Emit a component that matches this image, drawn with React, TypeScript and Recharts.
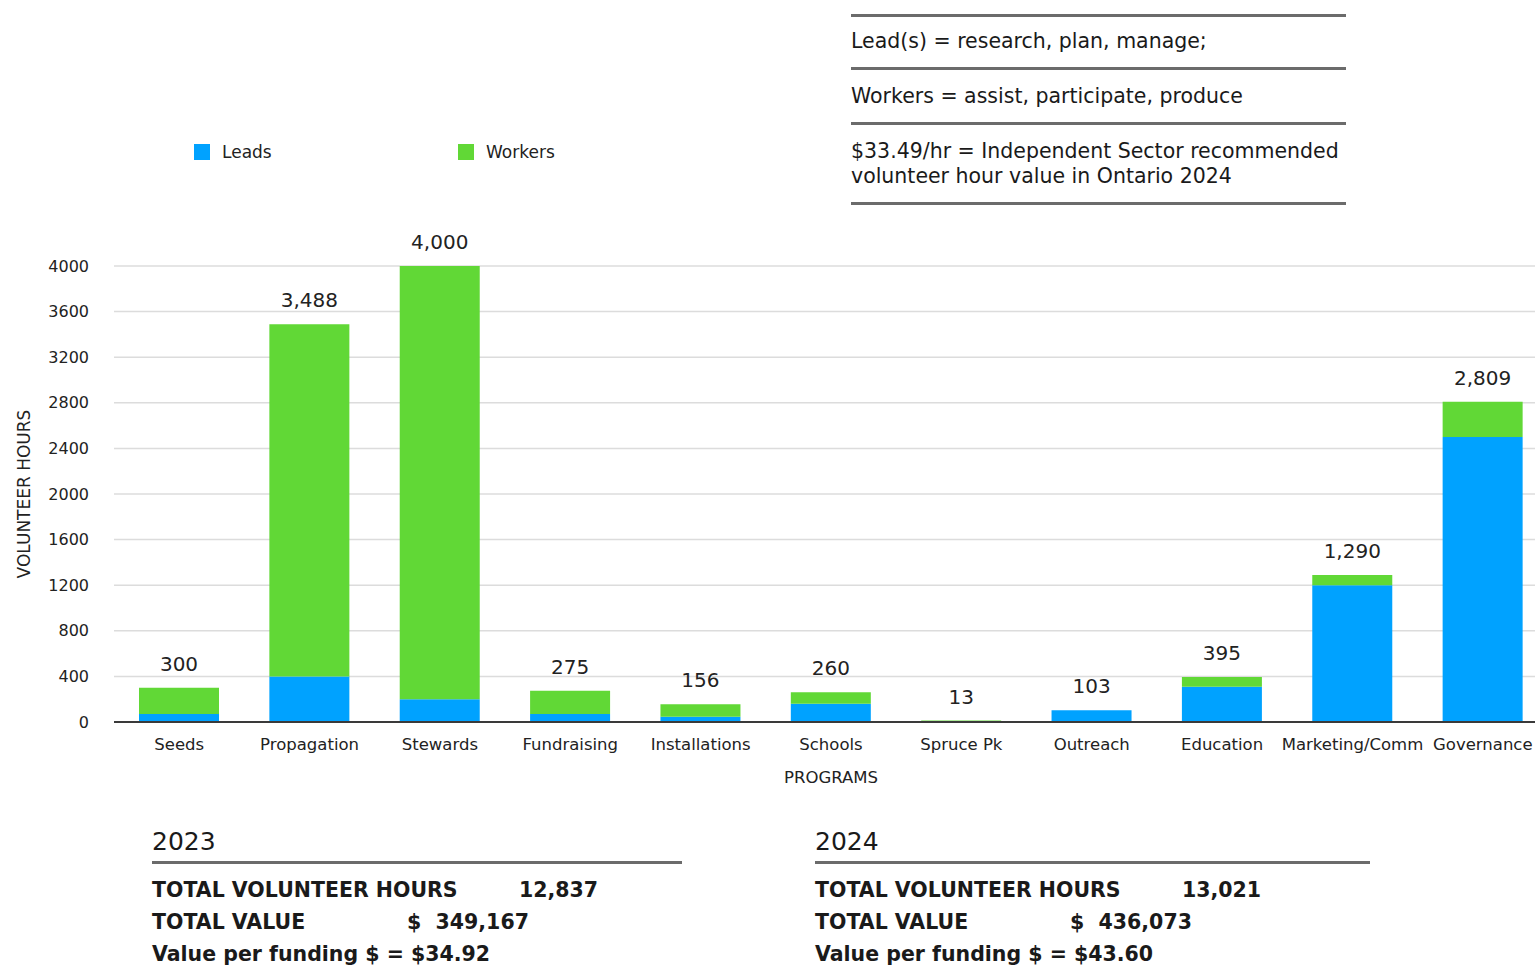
import { Bar, BarChart, CartesianGrid, LabelList, Legend, XAxis, YAxis } from "recharts";

const programs = [
  "Seeds",
  "Propagation",
  "Stewards",
  "Fundraising",
  "Installations",
  "Schools",
  "Spruce Pk",
  "Outreach",
  "Education",
  "Marketing/Comm",
  "Governance",
];
const leads = [70, 400, 200, 70, 45, 160, 0, 103, 310, 1200, 2500];
const workers = [230, 3088, 3800, 205, 111, 100, 13, 0, 85, 90, 309];
const yTicks = [0, 400, 800, 1200, 1600, 2000, 2400, 2800, 3200, 3600, 4000];

const notes = [
  "Lead(s) = research, plan, manage;",
  "Workers = assist, participate, produce",
  "$33.49/hr = Independent Sector recommended",
  "volunteer hour value in Ontario 2024",
];

const yearBlocks = [
  { year: "2023", hours: "12,837", value: "$  349,167", perDollar: "Value per funding $ = $34.92" },
  { year: "2024", hours: "13,021", value: "$  436,073", perDollar: "Value per funding $ = $43.60" },
];

const BLUE = "#00A2FF";
const GREEN = "#61D836";
const FONT = "'DejaVu Sans', 'Liberation Sans', sans-serif";

// total goes on the top segment; if there are no workers the leads segment is on top
const data = programs.map((name, i) => {
  const total = leads[i] + workers[i];
  return {
    name,
    leads: leads[i],
    workers: workers[i],
    topW: workers[i] > 0 ? total : null,
    topL: workers[i] > 0 ? null : total,
  };
});

function Txt({ x, y, size, bold, children }: any) {
  return (
    <div
      style={{
        position: "absolute",
        left: x,
        top: y - 14,
        height: 28,
        lineHeight: "28px",
        fontSize: size,
        fontWeight: bold ? 700 : 400,
        whiteSpace: "pre",
        color: "#1a1a1a",
      }}
    >
      {children}
    </div>
  );
}

function Rule({ x, y, w }: any) {
  return (
    <div
      style={{ position: "absolute", left: x, top: y - 1.5, width: w, height: 3, background: "#6b6b6b" }}
    />
  );
}

function LegendBox() {
  const items = [
    { label: "Leads", color: BLUE, x: 194 },
    { label: "Workers", color: GREEN, x: 458 },
  ];
  return (
    <div style={{ position: "relative", width: 0, height: 0, overflow: "visible" }}>
      {items.map((it) => (
        <div key={it.label}>
          <div
            style={{ position: "absolute", left: it.x, top: 144, width: 16, height: 16, background: it.color }}
          />
          <div
            style={{
              position: "absolute",
              left: it.x + 28,
              top: 140,
              lineHeight: "24px",
              fontSize: 17,
              color: "#222",
              whiteSpace: "nowrap",
              fontFamily: FONT,
            }}
          >
            {it.label}
          </div>
        </div>
      ))}
    </div>
  );
}

function TotalLabel(props: any) {
  const { x, y, width, value } = props;
  if (value === null || value === undefined) return null;
  return (
    <text
      x={x + width / 2}
      y={y - 24}
      textAnchor="middle"
      dominantBaseline="central"
      fontSize={20}
      fill="#222"
      fontFamily={FONT}
    >
      {Number(value).toLocaleString("en-US")}
    </text>
  );
}

export default function App() {
  return (
    <div
      style={{
        position: "absolute",
        left: 0,
        top: 0,
        width: 1535,
        height: 966,
        overflow: "hidden",
        background: "#fff",
        fontFamily: FONT,
      }}
    >
      <BarChart
        width={1548}
        height={800}
        data={data}
        margin={{ top: 266, right: 0, bottom: 0, left: 0 }}
        style={{ position: "absolute", left: 0, top: 0 }}
      >
        <CartesianGrid vertical={false} stroke="#dcdcdc" strokeWidth={1.5} />
        <XAxis
          dataKey="name"
          height={78}
          interval={0}
          tickLine={false}
          tickMargin={10}
          axisLine={{ stroke: "#3a3a3a", strokeWidth: 2 }}
          tick={{ fill: "#222", fontSize: 16.5, fontFamily: FONT }}
          label={{
            content: ({ viewBox }: any) => (
              <text
                x={viewBox.x + viewBox.width / 2}
                y={777}
                textAnchor="middle"
                dominantBaseline="central"
                fontSize={16.5}
                fill="#222"
                fontFamily={FONT}
              >
                PROGRAMS
              </text>
            ),
          }}
        />
        <YAxis
          width={114}
          domain={[0, 4000]}
          ticks={yTicks}
          axisLine={false}
          tickLine={false}
          tickMargin={19}
          tick={{ fill: "#222", fontSize: 16, fontFamily: FONT }}
          label={{
            content: () => (
              <text
                x={24}
                y={494}
                transform="rotate(-90 24 494)"
                textAnchor="middle"
                dominantBaseline="central"
                fontSize={17}
                fill="#222"
                fontFamily={FONT}
              >
                VOLUNTEER HOURS
              </text>
            ),
          }}
        />
        <Legend
          content={() => <LegendBox />}
          wrapperStyle={{ position: "absolute", left: 0, top: 0, width: 0, height: 0 }}
        />
        <Bar dataKey="leads" name="Leads" stackId="a" fill={BLUE} barSize={80} isAnimationActive={false}>
          <LabelList dataKey="topL" content={<TotalLabel />} />
        </Bar>
        <Bar dataKey="workers" name="Workers" stackId="a" fill={GREEN} barSize={80} isAnimationActive={false}>
          <LabelList dataKey="topW" content={<TotalLabel />} />
        </Bar>
      </BarChart>

      <Rule x={851} y={15} w={495} />
      <Txt x={851} y={41} size={20.5}>{notes[0]}</Txt>
      <Rule x={851} y={68} w={495} />
      <Txt x={851} y={96} size={20.5}>{notes[1]}</Txt>
      <Rule x={851} y={123} w={495} />
      <Txt x={851} y={151} size={20.5}>{notes[2]}</Txt>
      <Txt x={851} y={176} size={20.5}>{notes[3]}</Txt>
      <Rule x={851} y={203} w={495} />

      {yearBlocks.map((b, i) => {
        const x = i === 0 ? 152 : 815;
        const w = i === 0 ? 530 : 555;
        return (
          <div key={b.year}>
            <Txt x={x} y={842} size={25}>{b.year}</Txt>
            <Rule x={x} y={862} w={w} />
            <Txt x={x} y={890} size={20.5} bold>TOTAL VOLUNTEER HOURS</Txt>
            <Txt x={x + 367} y={890} size={20.5} bold>{b.hours}</Txt>
            <Txt x={x} y={922} size={20.5} bold>TOTAL VALUE</Txt>
            <Txt x={x + 255} y={922} size={20.5} bold>{b.value}</Txt>
            <Txt x={x} y={954} size={20.5} bold>{b.perDollar}</Txt>
          </div>
        );
      })}
    </div>
  );
}
